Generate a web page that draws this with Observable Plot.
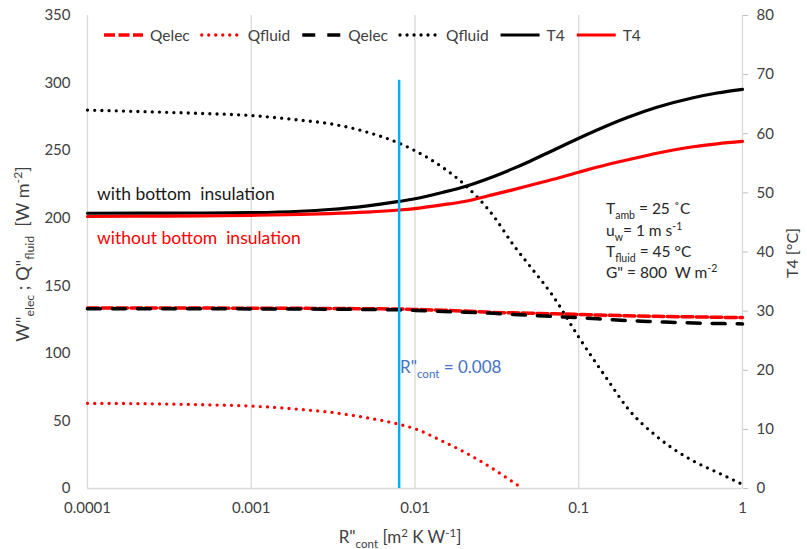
<!DOCTYPE html>
<html><head><meta charset="utf-8">
<script src="https://cdn.jsdelivr.net/npm/d3@7"></script>
<script src="https://cdn.jsdelivr.net/npm/@observablehq/plot@0.6"></script>
<style>body{margin:0;background:#fff}#chart{width:807px;height:549px}</style>
</head><body><div id="chart"></div>
<script>
// ---- data ----
const R = [0.0001,0.0002,0.0005,0.001,0.002,0.003,0.005,0.008,0.01,0.015,0.02,0.03,0.04,0.05,0.07,0.1,0.15,0.2,0.3,0.5,0.7,1];
const qelecRed   = [133.5,133.5,133.5,133.4,133.3,133.2,133.0,132.8,132.5,131.9,131.3,130.3,130.0,129.7,129.3,128.8,128.2,127.8,127.4,127.0,126.7,126.5];
const qelecBlack = [133.0,133.0,133.0,132.9,132.8,132.7,132.5,132.2,131.8,131.0,130.5,129.6,128.8,128.2,127.3,126.4,125.1,124.2,123.4,122.5,122.1,121.8];
const qfluidBlack= [280,279,277.5,276,272.5,270,264,255.5,250,237,225,202,180,165,142,112,80.5,59,38.5,20.4,12,3];
const RfluidRed  = [0.0001,0.0002,0.0005,0.001,0.002,0.003,0.005,0.008,0.01,0.015,0.02,0.03,0.04,0.0455];
const qfluidRed  = [63,62.8,62,61,58.5,56.5,52.5,47.5,44.2,34.5,27,14.5,4.5,0];
const t4Black    = [46.55,46.57,46.6,46.65,46.89,47.19,47.77,48.55,49.0,50.13,51.05,52.74,54.14,55.32,57.22,59.24,61.4,62.78,64.47,66.09,66.89,67.51];
const t4Red      = [46.0,46.05,46.1,46.2,46.35,46.5,46.75,47.1,47.35,48.0,48.55,49.7,50.55,51.25,52.3,53.5,54.8,55.6,56.7,57.8,58.3,58.7];
const rMarker = [0.008];
const rMarkerTop = [302];
const xTicks = [0.0001,0.001,0.01,0.1,1];
const xTickLabels = ["0.0001","0.001","0.01","0.1","1"];
const yTicks = [0,50,100,150,200,250,300,350];
const tTicks = [0,10,20,30,40,50,60,70,80];
const yMax = 350, tMax = 80;
const k = yMax / tMax;

const rows = (xs, vs, f = 1) => xs.map((r, i) => ({r, v: vs[i] * f}));

const base = {x: "r", y: "v", curve: "monotone-x"};
const dotStyle = {strokeWidth: 3.3, strokeDasharray: "0 7.2", strokeLinecap: "round"};

const plot = Plot.plot({
  width: 807, height: 549,
  marginLeft: 87, marginRight: 65, marginTop: 15, marginBottom: 61,
  style: {fontFamily: "Lato, sans-serif", fontSize: "15px", color: "#404040", background: "#fff", overflow: "visible"},
  x: {type: "log", domain: [0.0001, 1]},
  y: {domain: [0, yMax]},
  marks: [
    Plot.ruleX(xTicks, {stroke: "#d9d9d9", strokeWidth: 1.3}),
    Plot.ruleY([0], {stroke: "#d9d9d9", strokeWidth: 1.3}),
    Plot.axisX(xTicks, {anchor: "bottom", tickSize: 0, tickPadding: 14, label: null,
      tickFormat: d => xTickLabels[xTicks.indexOf(d)], fill: "#404040"}),
    Plot.axisY(yTicks, {anchor: "left", tickSize: 0, tickPadding: 17, label: null, fill: "#404040"}),
    Plot.axisY(tTicks.map(t => t * k), {anchor: "right", tickSize: 5, tickPadding: 9, label: null,
      stroke: "#bfbfbf", fill: "#404040", tickFormat: d => String(Math.round(d / k))}),
    Plot.line(rows(R, qelecRed), {...base, stroke: "#ff0000", strokeWidth: 3.5, strokeDasharray: "11 3.5"}),
    Plot.line(rows(RfluidRed, qfluidRed), {...base, stroke: "#ff0000", ...dotStyle}),
    Plot.line(rows(R, qelecBlack), {...base, stroke: "#000", strokeWidth: 3.5, strokeDasharray: "13 12"}),
    Plot.line(rows(R, qfluidBlack), {...base, stroke: "#000", ...dotStyle}),
    Plot.line(rows(R, t4Black, k), {...base, stroke: "#000", strokeWidth: 3.2}),
    Plot.line(rows(R, t4Red, k), {...base, stroke: "#ff0000", strokeWidth: 3.2}),
    Plot.ruleX(rMarker, {y1: 0, y2: rMarkerTop[0], stroke: "#00b0f0", strokeWidth: 2.5})
  ]
});
document.getElementById("chart").appendChild(plot);

const svg = d3.select(plot);
// rich text helper: parts [text, shift] shift 1=sub, -1=sup
function rich(sel, parts, size) {
  let cur = 0;
  parts.forEach(([t, s]) => {
    const target = s === 1 ? size * 0.3 : s === -1 ? -size * 0.38 : 0;
    const ts = sel.append("tspan").text(t).attr("dy", target - cur);
    if (s) ts.attr("font-size", size * 0.68);
    cur = target;
  });
  return sel;
}
function addText(x, y, parts, opts = {}) {
  const size = opts.size || 15;
  const g = svg.append("g").attr("transform", `translate(${x},${y})` + (opts.rotate ? ` rotate(${opts.rotate})` : ""));
  const t = g.append("text").attr("font-size", size).attr("fill", opts.fill || "#404040")
    .attr("text-anchor", opts.anchor || "start").style("white-space", "pre");
  rich(t, parts, size);
  return t;
}

// axis titles
addText(29, 254, [['W"', 0], ["elec", 1], [' ; Q"', 0], ["fluid", 1], ["  [W m", 0], ["-2", -1], ["]", 0]], {rotate: -90, anchor: "middle", size: 18});
addText(798, 253, [["T4 [°C]", 0]], {rotate: -90, anchor: "middle", size: 16});
addText(400, 543, [['R"', 0], ["cont", 1], [" [m", 0], ["2", -1], [" K W", 0], ["-1", -1], ["]", 0]], {anchor: "middle", size: 17});

// annotations
addText(97, 200, [["with bottom  insulation", 0]], {fill: "#1a1a1a", size: 17.5});
addText(97, 244, [["without bottom  insulation", 0]], {fill: "#ff0000", size: 17.5});
addText(400, 373, [['R"', 0], ["cont", 1], [" = 0.008", 0]], {fill: "#4472c4", size: 17});
addText(606, 214, [["T", 0], ["amb", 1], [" = 25 ˚C", 0]], {size: 15.5, fill: "#262626"});
addText(606, 236, [["u", 0], ["w", 1], ["= 1 m s", 0], ["-1", -1]], {size: 15.5, fill: "#262626"});
addText(606, 257, [["T", 0], ["fluid", 1], [" = 45 °C", 0]], {size: 15.5, fill: "#262626"});
addText(606, 278, [['G" = 800  W m', 0], ["-2", -1]], {size: 15.5, fill: "#262626"});

// legend
const legendItems = [
  {label: "Qelec", stroke: "#ff0000", dash: "11 3.5", cap: "butt", w: 3.5},
  {label: "Qfluid", stroke: "#ff0000", dash: "0 7", cap: "round", w: 3.3},
  {label: "Qelec", stroke: "#000", dash: "13 12", cap: "butt", w: 3.5},
  {label: "Qfluid", stroke: "#000", dash: "0 7", cap: "round", w: 3.3},
  {label: "T4", stroke: "#000", dash: null, cap: "butt", w: 3.2},
  {label: "T4", stroke: "#ff0000", dash: null, cap: "butt", w: 3.2}
];
const lg = svg.append("g").attr("font-size", 15.5).attr("fill", "#404040").attr("text-anchor", "start");
let lx = 104;
legendItems.forEach(it => {
  lg.append("line").attr("x1", lx).attr("x2", lx + 39).attr("y1", 35).attr("y2", 35)
    .attr("stroke", it.stroke).attr("stroke-width", it.w).attr("stroke-linecap", it.cap)
    .attr("stroke-dasharray", it.dash);
  const t = lg.append("text").attr("x", lx + 46).attr("y", 40.5).text(it.label);
  lx += 46 + t.node().getComputedTextLength() + 12;
});
</script>
</body></html>
